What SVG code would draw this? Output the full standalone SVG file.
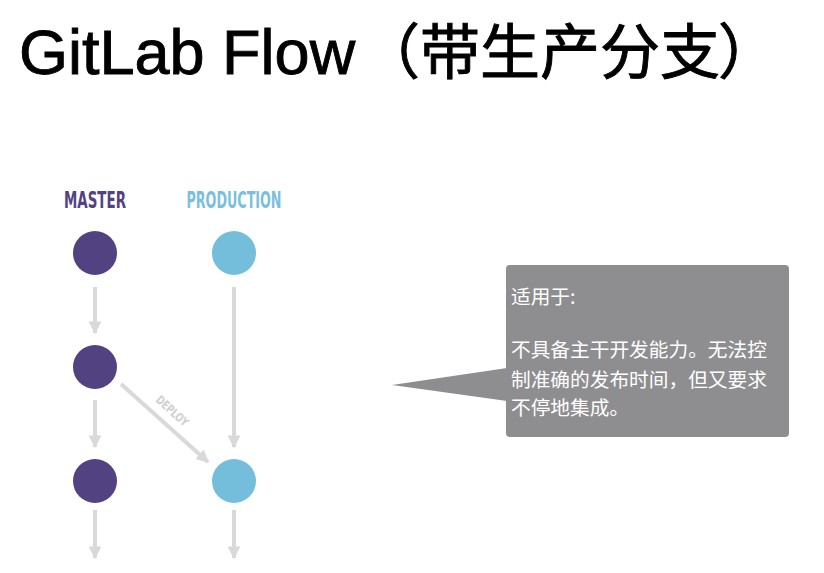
<svg xmlns="http://www.w3.org/2000/svg" width="824" height="573" viewBox="0 0 824 573">
<defs>
<style>
.title{font-family:"Liberation Sans","Noto Sans CJK SC",sans-serif;fill:#000;stroke:#000;stroke-width:0.9}
.lbl{font-family:"DejaVu Sans Condensed","DejaVu Sans",sans-serif;font-weight:bold;font-size:23px}
.master{fill:#524282}
.prod{fill:#74bedc}
.conn{stroke:#d9d9d9;stroke-width:4;fill:none;marker-end:url(#ah)}
.note{font-family:"Noto Sans CJK SC",sans-serif;font-size:19.7px;fill:#fff}
</style>
<marker id="ah" viewBox="0 0 10 10" refX="9" refY="5" markerWidth="3.2" markerHeight="3.2" orient="auto" markerUnits="strokeWidth">
<path d="M0,0 L10,5 L0,10 z" fill="#d9d9d9"/>
</marker>
</defs>
<rect width="824" height="573" fill="#fff"/>
<text class="title" y="74"><tspan x="19" font-size="63">GitLab Flow</tspan><tspan x="360" font-size="60">（</tspan><tspan x="420" font-size="60">带生产分支</tspan><tspan x="718" font-size="60">）</tspan></text>
<text class="lbl" x="95" y="208" text-anchor="middle" fill="#524282" textLength="62" lengthAdjust="spacingAndGlyphs">MASTER</text>
<text class="lbl" x="234" y="208" text-anchor="middle" fill="#7bbfdc" textLength="95" lengthAdjust="spacingAndGlyphs">PRODUCTION</text>
<g id="connectors">
<line class="conn" x1="95" y1="287" x2="95" y2="333"/>
<line class="conn" x1="95" y1="400" x2="95" y2="447"/>
<line class="conn" x1="95" y1="510" x2="95" y2="558"/>
<line class="conn" x1="234" y1="287" x2="234" y2="447"/>
<line class="conn" x1="234" y1="510" x2="234" y2="558"/>
<line class="conn" x1="121" y1="384" x2="208" y2="462"/>
<text x="0" y="0" transform="translate(155,401) rotate(42)" font-family="DejaVu Sans Condensed,sans-serif" font-weight="bold" font-size="12" fill="#d0d0d0" textLength="39" lengthAdjust="spacingAndGlyphs">DEPLOY</text>
</g>
<g id="master1"><circle class="master" cx="95" cy="253" r="22"/></g>
<g id="master2"><circle class="master" cx="95" cy="367" r="22"/></g>
<g id="master3"><circle class="master" cx="95" cy="481" r="22"/></g>
<g id="prod1"><circle class="prod" cx="234" cy="253" r="22"/></g>
<g id="prod2"><circle class="prod" cx="234" cy="481" r="22"/></g>
<g id="callout">
<path d="M392,385 L507,368 L507,401 z" fill="#8e8e90"/>
<rect x="506" y="265" width="283" height="172" rx="4" fill="#8e8e90"/>
<text class="note" x="511" y="304">适用于:</text>
<text class="note" x="511" y="357">不具备主干开发能力。无法控</text>
<text class="note" x="511" y="387">制准确的发布时间，但又要求</text>
<text class="note" x="511" y="415">不停地集成。</text>
</g>
</svg>
